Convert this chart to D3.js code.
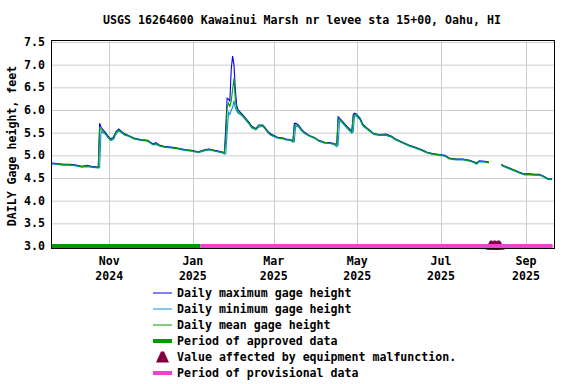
<!DOCTYPE html>
<html><head><meta charset="utf-8">
<script src="https://cdn.jsdelivr.net/npm/d3@7"></script>
<style>
html,body{margin:0;padding:0;background:#fff;}
svg text{font-family:"DejaVu Sans Mono",monospace;font-weight:bold;font-size:11.6px;fill:#000;}
</style></head>
<body><svg id="c" width="576" height="384"></svg>
<script>
const title = "USGS 16264600 Kawainui Marsh nr levee sta 15+00, Oahu, HI";
const yLabel = "DAILY Gage height, feet";
const dates = ["2024-09-20","2024-09-24","2024-09-29","2024-10-03","2024-10-07","2024-10-12","2024-10-16","2024-10-20","2024-10-24","2024-10-25","2024-10-26","2024-10-29","2024-10-31","2024-11-02","2024-11-04","2024-11-06","2024-11-08","2024-11-10","2024-11-12","2024-11-15","2024-11-19","2024-11-24","2024-11-29","2024-12-03","2024-12-05","2024-12-08","2024-12-11","2024-12-19","2024-12-26","2024-12-31","2025-01-05","2025-01-10","2025-01-13","2025-01-17","2025-01-22","2025-01-24","2025-01-25","2025-01-26","2025-01-27","2025-01-28","2025-01-29","2025-01-30","2025-01-31","2025-02-01","2025-02-02","2025-02-03","2025-02-06","2025-02-08","2025-02-11","2025-02-13","2025-02-16","2025-02-18","2025-02-21","2025-02-23","2025-02-25","2025-02-27","2025-03-03","2025-03-05","2025-03-08","2025-03-10","2025-03-13","2025-03-15","2025-03-16","2025-03-17","2025-03-19","2025-03-21","2025-03-23","2025-03-27","2025-03-31","2025-04-03","2025-04-07","2025-04-11","2025-04-14","2025-04-16","2025-04-17","2025-04-18","2025-04-19","2025-04-22","2025-04-24","2025-04-27","2025-04-28","2025-04-29","2025-04-30","2025-05-03","2025-05-05","2025-05-09","2025-05-13","2025-05-17","2025-05-22","2025-05-26","2025-05-29","2025-06-03","2025-06-08","2025-06-13","2025-06-18","2025-06-21","2025-06-25","2025-06-30","2025-07-04","2025-07-07","2025-07-12","2025-07-17","2025-07-22","2025-07-25","2025-07-27","2025-07-29","2025-08-02","2025-08-05","2025-08-09","2025-08-14","2025-08-16","2025-08-20","2025-08-24","2025-08-27","2025-08-31","2025-09-04","2025-09-07","2025-09-11","2025-09-14","2025-09-17","2025-09-20"];
const meanVals = [4.82,4.81,4.79,4.79,4.78,4.75,4.77,4.74,4.73,5.60,5.56,5.49,5.41,5.34,5.37,5.51,5.56,5.51,5.46,5.43,5.37,5.34,5.32,5.24,5.26,5.21,5.19,5.16,5.12,5.10,5.07,5.12,5.13,5.10,5.07,5.05,5.35,6.05,6.15,6.08,6.20,6.45,6.70,6.22,6.04,5.96,5.89,5.82,5.71,5.62,5.58,5.65,5.66,5.58,5.50,5.45,5.40,5.38,5.37,5.35,5.34,5.31,5.62,5.68,5.65,5.57,5.50,5.43,5.38,5.32,5.28,5.27,5.25,5.23,5.80,5.79,5.77,5.67,5.60,5.52,5.86,5.91,5.90,5.80,5.67,5.57,5.47,5.45,5.45,5.41,5.35,5.28,5.21,5.16,5.10,5.06,5.03,5.01,4.99,4.93,4.91,4.91,4.88,4.85,4.82,4.87,4.86,4.84,null,4.79,4.76,4.71,4.66,4.62,4.58,4.58,4.57,4.57,4.53,4.48,4.47];
const maxVals = [4.83,4.82,4.80,4.80,4.79,4.76,4.78,4.75,4.74,5.71,5.62,5.51,5.43,5.36,5.40,5.53,5.58,5.53,5.48,5.44,5.38,5.35,5.33,5.25,5.28,5.22,5.20,5.17,5.13,5.11,5.08,5.13,5.14,5.11,5.08,5.06,5.60,6.26,6.24,6.20,6.90,7.19,7.00,6.44,6.10,6.00,5.91,5.84,5.73,5.64,5.59,5.67,5.67,5.60,5.52,5.47,5.41,5.39,5.38,5.36,5.35,5.32,5.70,5.71,5.67,5.59,5.52,5.44,5.39,5.33,5.29,5.28,5.26,5.24,5.85,5.82,5.79,5.69,5.62,5.54,5.90,5.93,5.92,5.82,5.69,5.58,5.48,5.46,5.47,5.42,5.36,5.29,5.22,5.17,5.11,5.07,5.04,5.02,5.00,4.94,4.92,4.92,4.89,4.86,4.83,4.88,4.87,4.85,null,4.80,4.77,4.72,4.67,4.63,4.59,4.59,4.58,4.58,4.54,4.49,4.48];
const minVals = [4.81,4.80,4.78,4.78,4.77,4.74,4.75,4.73,4.72,4.73,5.52,5.47,5.39,5.33,5.35,5.47,5.54,5.50,5.45,5.42,5.36,5.33,5.31,5.23,5.24,5.20,5.18,5.15,5.11,5.09,5.06,5.10,5.12,5.09,5.06,5.03,5.03,5.50,5.95,5.90,6.00,6.05,6.20,6.05,5.98,5.93,5.87,5.80,5.69,5.60,5.56,5.62,5.64,5.57,5.49,5.44,5.39,5.37,5.36,5.34,5.33,5.29,5.30,5.64,5.63,5.55,5.49,5.42,5.37,5.31,5.27,5.26,5.24,5.19,5.22,5.76,5.75,5.65,5.58,5.49,5.52,5.88,5.87,5.78,5.65,5.55,5.46,5.44,5.44,5.40,5.34,5.27,5.20,5.15,5.09,5.05,5.02,5.00,4.98,4.92,4.90,4.90,4.87,4.84,4.80,4.86,4.85,4.83,null,4.78,4.75,4.70,4.65,4.61,4.57,4.57,4.56,4.56,4.52,4.47,4.46];
const malfunctionDates = ["2025-08-06","2025-08-07","2025-08-08","2025-08-09","2025-08-10","2025-08-11","2025-08-12","2025-08-13"];
const malfunctionValue = 3.0;
const approvedPeriod = ["2024-09-19T12:00","2025-01-06T12:00"];
const provisionalPeriod = ["2025-01-06T12:00","2025-09-20T12:00"];
const xDomain = ["2024-09-19T12:00","2025-09-21T12:00"];
const xTickDates = ["2024-11-01","2025-01-01","2025-03-01","2025-05-01","2025-07-01","2025-09-01"];
const xTickMonths = ["Nov","Jan","Mar","May","Jul","Sep"];
const xTickYears = ["2024","2025","2025","2025","2025","2025"];
const yTicks = [3.0,3.5,4.0,4.5,5.0,5.5,6.0,6.5,7.0,7.5];
const legendItems = ["Daily maximum gage height","Daily minimum gage height","Daily mean gage height","Period of approved data","Value affected by equipment malfunction.","Period of provisional data"];

const C = {max:"#0000ff", min:"#0a8ee0", mean:"#00a000", approved:"#009900", prov:"#f040d0", mal:"#800040", grid:"#cccccc"};
const P = {l:51, r:554, t:40, b:248};
const parse = s => new Date(s.length > 10 ? s + ":00Z" : s + "T00:00:00Z");

const svg = d3.select("#c");
const x = d3.scaleUtc().domain(xDomain.map(parse)).range([P.l, P.r]);
const y = d3.scaleLinear().domain([3.0, 7.5]).range([246, 42]);

// title
svg.append("text").attr("x", 302).attr("y", 24).attr("text-anchor", "middle").text(title);

// grid
const g = svg.append("g");
g.selectAll("line.h").data(yTicks).join("line").attr("class","h")
  .attr("x1", P.l).attr("x2", P.r).attr("y1", d => y(d)+0.5).attr("y2", d => y(d)+0.5)
  .attr("stroke", C.grid).attr("stroke-width", 1);
g.selectAll("line.v").data(xTickDates).join("line").attr("class","v")
  .attr("x1", d => Math.round(x(parse(d)))+0.5).attr("x2", d => Math.round(x(parse(d)))+0.5)
  .attr("y1", P.t).attr("y2", P.b).attr("stroke", C.grid).attr("stroke-width", 1);

// y labels
svg.selectAll("text.yt").data(yTicks).join("text").attr("class","yt")
  .attr("x", 45).attr("y", d => y(d) + 4).attr("text-anchor", "end").text(d => d.toFixed(1));
svg.append("text").attr("transform", "translate(16,146) rotate(-90)").attr("text-anchor","middle").text(yLabel);

// x labels
xTickDates.forEach((d, i) => {
  const xx = x(parse(d));
  svg.append("text").attr("x", xx).attr("y", 265).attr("text-anchor","middle").text(xTickMonths[i]);
  svg.append("text").attr("x", xx).attr("y", 280).attr("text-anchor","middle").text(xTickYears[i]);
});

// data
const rows = dates.map((d, i) => ({d: parse(d), mx: maxVals[i], mn: minVals[i], mean: meanVals[i]}));
const mk = key => d3.line().defined(r => r[key] != null).x(r => x(r.d)).y(r => y(r[key]));
svg.append("path").datum(rows).attr("d", mk("mx")).attr("fill","none").attr("stroke", C.max).attr("stroke-width", 1.1);
svg.append("path").datum(rows).attr("d", mk("mn")).attr("fill","none").attr("stroke", C.min).attr("stroke-width", 1.1);
svg.append("path").datum(rows).attr("d", mk("mean")).attr("fill","none").attr("stroke", C.mean).attr("stroke-width", 1.1);

// malfunction markers
svg.selectAll("path.mal").data(malfunctionDates).join("path").attr("class","mal")
  .attr("transform", d => `translate(${x(parse(d))},${y(malfunctionValue)})`)
  .attr("d", "M-5,3.5 L0,-6 L5,3.5 Z").attr("fill", C.mal);

// period bars
svg.append("rect").attr("x", x(parse(approvedPeriod[0]))).attr("width", x(parse(approvedPeriod[1])) - x(parse(approvedPeriod[0])))
  .attr("y", y(3.0) - 2).attr("height", 4).attr("fill", C.approved);
svg.append("rect").attr("x", x(parse(provisionalPeriod[0]))).attr("width", x(parse(provisionalPeriod[1])) - x(parse(provisionalPeriod[0])))
  .attr("y", y(3.0) - 2).attr("height", 4).attr("fill", C.prov);

// frame
svg.append("rect").attr("x", P.l + 0.5).attr("y", P.t + 0.5).attr("width", P.r - P.l).attr("height", P.b - P.t)
  .attr("fill","none").attr("stroke","#000").attr("stroke-width", 1);

// legend
const lg = svg.append("g");
const ly = i => 293 + i * 16;
legendItems.forEach((t, i) => {
  lg.append("text").attr("x", 177).attr("y", ly(i) + 4).text(t);
});
[[C.max,1],[C.min,1],[C.mean,1]].forEach((s, i) => {
  lg.append("line").attr("x1",153).attr("x2",172).attr("y1",ly(i)).attr("y2",ly(i)).attr("stroke",s[0]).attr("stroke-width",s[1]);
});
lg.append("line").attr("x1",153).attr("x2",172).attr("y1",ly(3)).attr("y2",ly(3)).attr("stroke",C.approved).attr("stroke-width",4);
lg.append("line").attr("x1",153).attr("x2",172).attr("y1",ly(5)).attr("y2",ly(5)).attr("stroke",C.prov).attr("stroke-width",4);
lg.append("path").attr("transform",`translate(162.5,${ly(4)})`).attr("d","M-6.5,5.5 L-1.5,-5.5 L1.5,-5.5 L6.5,5.5 Z").attr("fill",C.mal);
</script></body></html>
